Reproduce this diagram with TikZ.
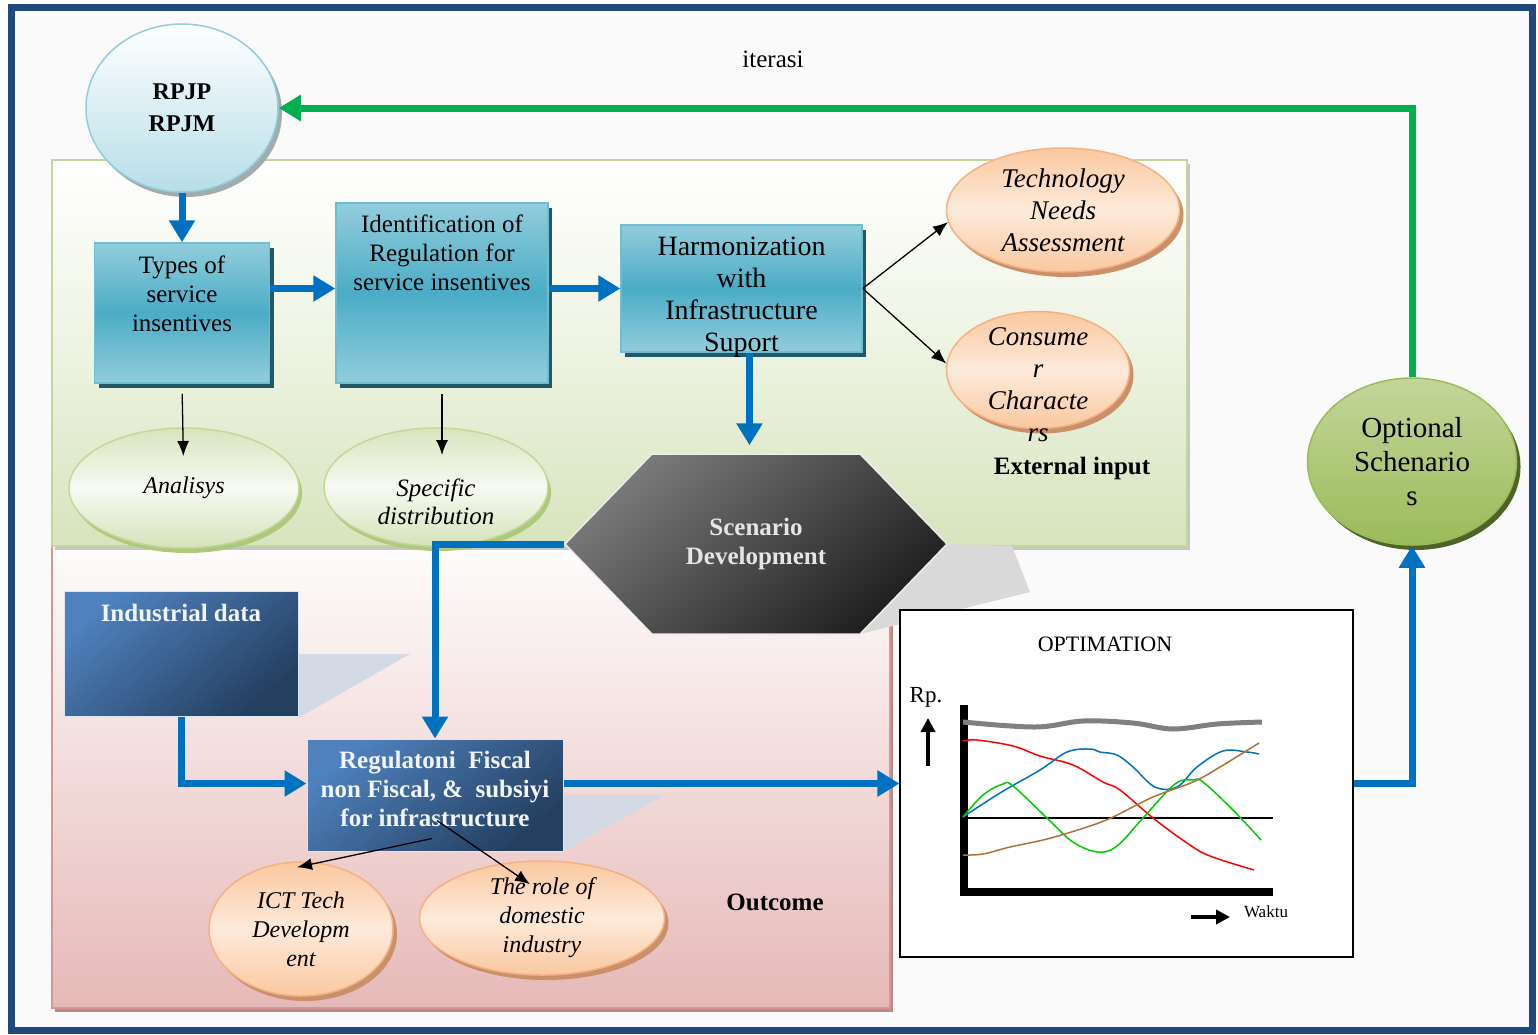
\documentclass[tikz,border=0pt]{standalone}
\usepackage{fontspec}
\setmainfont{Liberation Serif}
\usepackage{xcolor}
\usepackage{tikz}
\usetikzlibrary{arrows.meta, positioning, shapes.geometric, shapes.symbols, shadows}

\definecolor{frameblue}{HTML}{1F497D}
\definecolor{arrblue}{HTML}{0070C0}
\definecolor{arrgreen}{HTML}{00B050}
\definecolor{tealA}{HTML}{4BACC6}
\definecolor{tealB}{HTML}{92CDDC}
\definecolor{tealS}{HTML}{215968}
\definecolor{olivA}{HTML}{D7E4BD}
\definecolor{olivB}{HTML}{C3D69B}
\definecolor{olivC}{HTML}{9BBB59}
\definecolor{olivD}{HTML}{4F6228}
\definecolor{pinkA}{HTML}{E6B9B8}
\definecolor{pinkB}{HTML}{D99594}
\definecolor{orA}{HTML}{FAC8A0}
\definecolor{orB}{HTML}{FDEADA}
\definecolor{orC}{HTML}{F4B183}
\definecolor{orS}{HTML}{C9906A}
\definecolor{navyA}{HTML}{4F81BD}
\definecolor{navyB}{HTML}{243F60}
\definecolor{skyA}{HTML}{B7DEE8}
\definecolor{wedge}{HTML}{D3DAE6}

\newcommand{\fs}[2]{\fontsize{#1}{#2}\selectfont}

\begin{document}
\begin{tikzpicture}[
    x=1pt, y=-1pt,
    lbl/.style={align=center, inner sep=0pt},
    tbox/.style={rectangle, draw=tealA!80!white, line width=1.5pt, inner sep=0pt,
                 top color=tealB, bottom color=tealB, middle color=tealA,
                 drop shadow={shadow xshift=4pt, shadow yshift=-5pt, fill=tealS, opacity=1}},
    nbox/.style={rectangle, draw=white!80!navyA, line width=1pt, inner sep=0pt,
                 top color=navyA, bottom color=navyB, shading angle=40},
    bell/.style={ellipse, draw=tealB, line width=1.5pt, inner sep=0pt,
                 top color=white, bottom color=skyA,
                 drop shadow={shadow xshift=4pt, shadow yshift=-5pt, fill=gray!70!tealS!60, opacity=1}},
    gell/.style={ellipse, draw=olivB, line width=1.5pt, inner sep=0pt,
                 top color=olivA, bottom color=olivA!90!olivB, middle color=olivA!20,
                 drop shadow={shadow xshift=3pt, shadow yshift=-5pt, fill=olivC!80, opacity=1}},
    oell/.style={ellipse, draw=orC, line width=1.5pt, inner sep=0pt,
                 top color=orA, bottom color=orA, middle color=orB,
                 drop shadow={shadow xshift=4pt, shadow yshift=-5pt, fill=orS, opacity=1}},
    vell/.style={ellipse, draw=olivC, line width=1.5pt, inner sep=0pt,
                 top color=olivB, bottom color=olivC,
                 drop shadow={shadow xshift=4pt, shadow yshift=-5pt, fill=olivD, opacity=1}},
    scen/.style={signal, signal to=west and east, signal pointer angle=92,
                 draw=gray!15, line width=1.5pt, inner sep=0pt,
                 top color=black!52, bottom color=black!88, shading angle=40,
                 text=white!90!black, font=\fs{25}{29}\bfseries, align=center},
    barr/.style={draw=arrblue, line width=7pt, -{Triangle[length=22pt, width=25pt]}},
    garr/.style={draw=arrgreen, line width=7pt, -{Triangle[length=22pt, width=25pt]}},
    karr/.style={draw=black, line width=1.3pt, -{Latex[length=15pt, width=12pt]}},
  ]
  \useasboundingbox (0,0) rectangle (1538,1034);
  \draw[frameblue, line width=7pt, fill=gray!4] (11,7) rectangle (1532,1030);

  % panels
  \path[draw=pinkB, line width=2.5pt, top color=white!96!pinkA, bottom color=pinkA,
        drop shadow={shadow xshift=3pt, shadow yshift=-4pt, fill=pinkB!60!gray, opacity=1}]
    (52,546) rectangle (890,1008);
  \path[draw=olivB, line width=2.5pt, top color=white, bottom color=olivA, middle color=olivA!45,
        drop shadow={shadow xshift=3pt, shadow yshift=-4pt, fill=gray!45, opacity=1}]
    (52,160) rectangle (1187,546);
  \fill[gray!30] (947,544) -- (1012,546) -- (1030,592) -- (860,634) -- cycle;
  \fill[wedge] (298,654) -- (410,654) -- (298,718) -- cycle;
  \fill[wedge] (563,795) -- (665,795) -- (563,851) -- cycle;

  % top row
  \node[bell, minimum width=192, minimum height=168, font=\fs{24}{32}\bfseries, align=center]
    (rpjp) at (182,108) {RPJP\\RPJM};
  \node[tbox, minimum width=175, minimum height=140,
        label={[lbl, font=\fs{25}{29}, yshift=19.5]center:Types of\\service\\insentives}]
    (types) at (182,313) {};
  \node[tbox, minimum width=212, minimum height=180,
        label={[lbl, font=\fs{25}{29}, yshift=40]center:Identification of\\Regulation for\\service insentives}]
    (ident) at (442,293) {};
  \node[tbox, minimum width=241, minimum height=127,
        label={[lbl, font=\fs{28}{32}, yshift=-9]center:Harmonization\\with\\Infrastructure\\Suport}]
    (harm) at (741.5,288.5) {};
  \node[gell, minimum width=230, minimum height=120, font=\fs{24}{28}\itshape]
    (anal) at (184,488) {Analisys};
  \node[gell, minimum width=224, minimum height=118,
        label={[lbl, font=\fs{25}{28}\itshape, yshift=-15]center:Specific\\distribution}]
    (spec) at (436,487) {};
  \node[oell, minimum width=233, minimum height=124,
        label={[lbl, font=\fs{27}{32}\itshape]center:Technology\\Needs\\Assessment}]
    (tna) at (1063,210) {};
  \node[oell, minimum width=183, minimum height=117,
        label={[lbl, font=\fs{27}{32}\itshape, yshift=-15]center:Consume\\r\\Characte\\rs}]
    (cons) at (1038,370) {};
  \node[font=\fs{25}{29}\bfseries] (extin) at (1072,468) {External input};
  \node[font=\fs{25}{29}] (iter) at (773,59) {iterasi};

  % scenario and outcome part
  \node[scen, minimum width=382, minimum height=180] (scn) at (756,544) {Scenario\\Development};
  \node[nbox, minimum width=234, minimum height=125,
        label={[lbl, font=\fs{25}{29}\bfseries, text=white!92!navyA, yshift=40.5]center:Industrial data}]
    (ind) at (181,653.5) {};
  \node[nbox, minimum width=256, minimum height=112,
        label={[lbl, font=\fs{25}{29}\bfseries, text=white!92!navyA, yshift=6]center:Regulatoni~~Fiscal\\non Fiscal, \&~~subsiyi\\for infrastructure}]
    (reg) at (435,795) {};
  \node[oell, minimum width=184, minimum height=134,
        label={[lbl, font=\fs{24}{29}\itshape]center:ICT Tech\\Developm\\ent}]
    (ict) at (301,929) {};
  \node[oell, minimum width=245, minimum height=114,
        label={[lbl, font=\fs{24}{29}\itshape]center:The role of\\domestic\\industry}]
    (role) at (542,918) {};
  \node[font=\fs{25}{29}\bfseries] (outc) at (775,902) {Outcome};

  % optimation chart
  \node[draw=black, line width=1.2pt, fill=white, minimum width=453, minimum height=347, inner sep=0pt]
    (optim) at (1126.5,783.5) {};
  \node[font=\fs{22}{26}] (optt) at (1105,644) {OPTIMATION};
  \node[font=\fs{23}{26}] (rp) at (926,697) {Rp.};
  \node[font=\fs{17}{20}] (waktu) at (1266,912) {Waktu};
  \draw[line width=3.5pt, -{Triangle[length=14pt, width=14pt]}] (928,766) -- (928,718);
  \draw[line width=3.5pt, -{Triangle[length=14pt, width=14pt]}] (1191,917) -- (1230,917);
  \draw[line width=1.3pt] (964,818) -- (1273,818);
  \draw[line width=8pt] (964,705) -- (964,892) -- (1273,892);
  \draw[gray, line width=5pt] plot[smooth, tension=0.6] coordinates {(963,722) (1035,727) (1083,721) (1133,723) (1173,729) (1217,724) (1262,722)};
  \draw[red, line width=1.5pt] plot[smooth, tension=0.6] coordinates {(963,741) (977,740) (1013,746) (1040,756) (1073,765) (1103,782) (1120,790) (1153,818) (1187,843) (1210,856) (1254,870)};
  \draw[arrblue, line width=1.5pt] plot[smooth, tension=0.6] coordinates {(963,817) (1000,793) (1040,770) (1067,752) (1090,749) (1100,752) (1117,755) (1133,767) (1155,787) (1177,787) (1197,767) (1223,751) (1247,752) (1259,754)};
  \draw[green!80!black, line width=1.5pt] plot[smooth, tension=0.6] coordinates {(963,817) (983,795) (1003,784) (1013,786) (1047,818) (1073,842) (1098,852) (1117,846) (1143,818) (1175,784) (1193,780) (1203,782) (1233,810) (1261,840)};
  \draw[brown!90!black, line width=1.5pt] plot[smooth, tension=0.6] coordinates {(963,855) (983,854) (1010,847) (1047,839) (1087,827) (1113,817) (1153,797) (1193,782) (1220,767) (1259,743)};

  \node[vell, minimum width=209, minimum height=167, font=\fs{29}{34}, align=center]
    (opsc) at (1412,461.5) {Optional\\Schenario\\s};

  % connectors
  \draw[barr] (rpjp.south) -- (types.north);
  \draw[barr] (types.east |- harm.west) -- (ident.west |- harm.west);
  \draw[barr] (ident.east |- harm.west) -- (harm.west);
  \draw[barr, shorten >=8pt] ([xshift=8pt]harm.south) -- ([xshift=8pt]harm.south |- scn.north);
  \draw[karr] (harm.east) -- (tna.186);
  \draw[karr] (harm.east) -- (cons.176);
  \draw[karr, shorten <=10pt, shorten >=32pt] (types.south) -- (anal.center);
  \draw[karr, shorten <=10pt, shorten >=32pt] (ident.south) -- (ident.south |- spec.center);
  \draw[barr] (scn.west) -| (reg.north);
  \draw[barr] (ind.south) |- (reg.west |- optim.west);
  \draw[barr] (reg.east |- optim.west) -- (optim.west);
  \draw[karr] ([xshift=-3pt, yshift=13pt]reg.south) -- ([xshift=-4pt, yshift=-6pt]ict.north);
  \draw[karr] ([xshift=2pt, yshift=31pt]reg.south) -- ([xshift=-12pt, yshift=-24pt]role.north);
  \draw[barr] (optim.east) -| (opsc.south);
  \draw[garr] (opsc.north) |- (rpjp.east);
\end{tikzpicture}
\end{document}
